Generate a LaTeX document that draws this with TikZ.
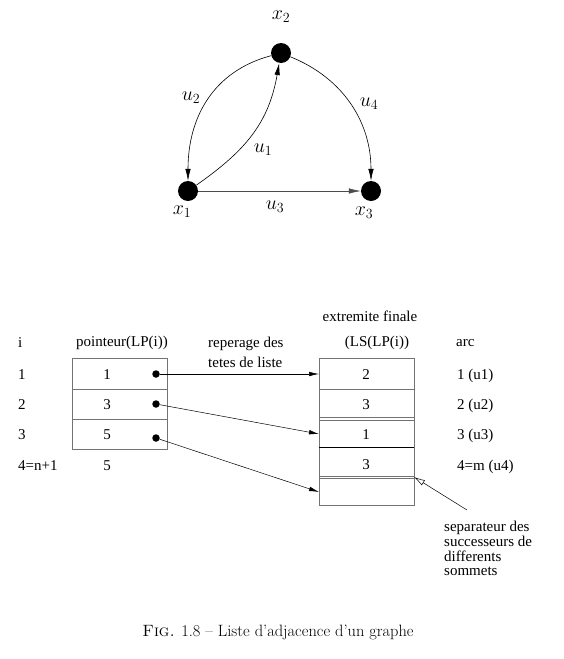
\RequirePackage{fix-cm}
\documentclass[tikz,border=0pt]{standalone}
\usepackage{fontspec}
\newfontfamily\tms{Liberation Serif}
\usetikzlibrary{arrows.meta}
\begin{document}
\begin{tikzpicture}[x=1pt,y=1pt,
  vert/.style={circle,fill=black,minimum size=20pt,inner sep=0pt},
  lbl/.style={font=\fontsize{20}{20}\selectfont,inner sep=0pt},
  txt/.style={font=\tms\fontsize{15}{15}\selectfont,inner sep=0pt,text height=10pt,text depth=0pt},
  arr/.style={-{Latex[length=12pt,width=5.5pt]},line width=0.6pt},
  tarr/.style={-{Latex[length=10pt,width=4.5pt]},line width=0.5pt},
  sarr/.style={-{Latex[open,length=11pt,width=6pt]},line width=0.5pt},
  dotn/.style={circle,fill=black,minimum size=7.5pt,inner sep=0pt},
  cell/.style={draw=black!55,line width=0.9pt},
  sep/.style={draw=black!55,line width=0.7pt}
]
\useasboundingbox (0,0) rectangle (563,-659);

% ---------- graph ----------
\node[vert] (x2) at (281,-53) {};
\node[vert] (x1) at (188,-191) {};
\node[vert] (x3) at (371,-191) {};
\node[lbl] (lx2) at (281,-17) {$x_2$};
\node[lbl] (lx1) at (182,-212) {$x_1$};
\node[lbl] (lx3) at (364,-213) {$x_3$};
\node[lbl] (lu2) at (191,-98) {$u_2$};
\node[lbl] (lu4) at (369,-104) {$u_4$};
\node[lbl] (lu1) at (263,-150) {$u_1$};
\node[lbl] (lu3) at (275,-207) {$u_3$};
\draw[arr] (x2) to[out=195,in=90,looseness=1.05] (x1);
\draw[arr] (x1) to[out=35,in=-100,looseness=1.05] (x2);
\draw[arr] (x2) to[out=-22,in=90] (x3);
\draw[arr,draw=black!70] (x1) -- (x3);

% ---------- left table ----------
\draw[cell] (72,-358) rectangle (167,-449);
\draw[cell] (72,-389) -- (167,-389);
\draw[cell] (72,-419) -- (167,-419);

\node[txt,anchor=west] (i0) at (18,-342) {i};
\node[txt,anchor=west] (i1) at (18,-374) {1};
\node[txt,anchor=west] (i2) at (18,-404) {2};
\node[txt,anchor=west] (i3) at (18,-434) {3};
\node[txt,anchor=west] (i4) at (18,-465) {4=n+1};
\node[txt] (ph) at (122,-341) {pointeur(LP(i))};
\node[txt] (p1) at (107,-374) {1};
\node[txt] (p2) at (107,-404) {3};
\node[txt] (p3) at (107,-434) {5};
\node[txt] (p4) at (107,-465) {5};
\node[txt,anchor=west] (rp1) at (208,-342) {reperage des};
\node[txt,anchor=west] (rp2) at (208,-362) {tetes de liste};

\node[dotn] (d1) at (156,-374) {};
\node[dotn] (d2) at (156,-404) {};
\node[dotn] (d3) at (156,-438) {};

% ---------- right table ----------
\draw[cell] (319,-358) rectangle (414,-505);
\draw[cell] (319,-389) -- (414,-389);
\draw[sep] (319,-417.5) -- (414,-417.5);
\draw[sep] (319,-420) -- (414,-420);
\draw[line width=0.9pt] (319,-447) -- (414,-447);
\draw[sep] (319,-476) -- (414,-476);
\draw[sep] (319,-478.5) -- (414,-478.5);

\node[txt] (eh1) at (370,-316) {extremite finale};
\node[txt] (eh2) at (377,-341) {(LS(LP(i))};
\node[txt] (e1) at (366,-374) {2};
\node[txt] (e2) at (366,-404) {3};
\node[txt] (e3) at (366,-434) {1};
\node[txt] (e4) at (366,-464) {3};
\node[txt,anchor=west] (ah) at (456,-341) {arc};
\node[txt,anchor=west] (a1) at (457,-374) {1 (u1)};
\node[txt,anchor=west] (a2) at (457,-404) {2 (u2)};
\node[txt,anchor=west] (a3) at (457,-434) {3 (u3)};
\node[txt,anchor=west] (a4) at (457,-465) {4=m (u4)};

\coordinate (t1) at (319,-374);
\coordinate (t2) at (319,-434);
\coordinate (t3) at (319,-492);
\draw[tarr] (d1) -- (t1);
\draw[tarr] (d2) -- (t2);
\draw[tarr] (d3) -- (t3);

\coordinate (sa) at (467,-510);
\coordinate (sb) at (414,-477);
\draw[sarr] (sa) -- (sb);
\node[txt,anchor=west] (s1) at (444,-526) {separateur des};
\node[txt,anchor=west] (s2) at (444,-541) {successeurs de};
\node[txt,anchor=west] (s3) at (444,-556) {differents};
\node[txt,anchor=west] (s4) at (444,-570) {sommets};

% ---------- caption ----------
\node[font=\fontsize{16.4}{16.4}\selectfont,inner sep=0pt] (cap) at (278,-632) {\textsc{Fig.} 1.8 -- Liste d'adjacence d'un graphe};
\end{tikzpicture}
\end{document}
